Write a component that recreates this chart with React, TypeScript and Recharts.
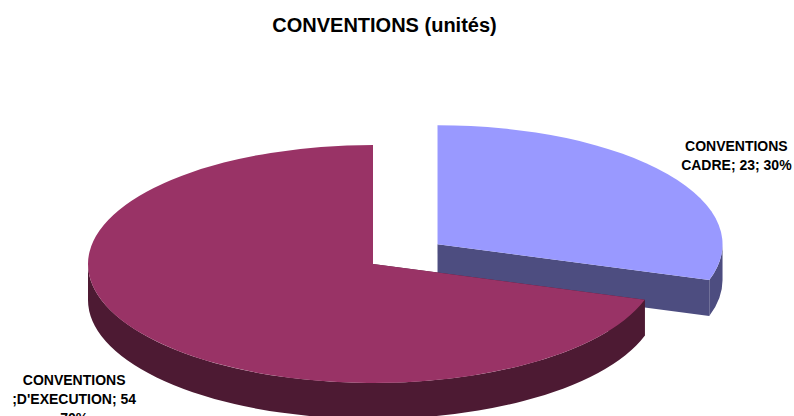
import React from "react";
import { PieChart, Pie } from "recharts";

// ---- data ----
const categories = ["CONVENTIONS CADRE", "CONVENTIONS D'EXECUTION"];
const values = [23, 54];
const labelTemplates = [
  ["CONVENTIONS", "CADRE; {v}; {p}"],
  ["CONVENTIONS", ";D'EXECUTION; {v}", "{p}"],
];
const title = "CONVENTIONS (unités)";

// ---- styles ----
const topColors = ["#9999FF", "#993366"];
const sideColors = ["#4D4D80", "#4D1A33"];
const explode = [80, 0];
const TILT = 119 / 285;
const DEPTH = 36;
const RAD = Math.PI / 180;
const FONT = '"Liberation Sans", Arial, Helvetica, sans-serif';

const data = categories.map((name, i) => ({ name, value: values[i] }));

function renderSlice(props: any) {
  const { cx, cy, outerRadius, startAngle, endAngle, midAngle, index, value, percent } = props;
  const rx = outerRadius;
  const ry = outerRadius * TILT;
  const ex = explode[index] || 0;
  const ox = cx + Math.cos(midAngle * RAD) * ex;
  const oy = cy - Math.sin(midAngle * RAD) * ex * TILT;
  const P = (a: number, z = 0) => [ox + rx * Math.cos(a * RAD), oy - ry * Math.sin(a * RAD) + z];
  const s = Math.max(startAngle, endAngle);
  const e = Math.min(startAngle, endAngle);
  const side = sideColors[index];
  const top = topColors[index];

  // radial walls
  const walls = [s, e].map((a, k) => {
    const p = P(a);
    const pd = P(a, DEPTH);
    const d = `M${ox},${oy} L${p[0]},${p[1]} L${pd[0]},${pd[1]} L${ox},${oy + DEPTH} Z`;
    return <path key={"w" + k} d={d} fill={side} stroke="none" />;
  });

  // outer (front) wall
  const outer: any[] = [];
  for (let k = -2; k <= 1; k++) {
    const lo = -180 + 360 * k;
    const hi = 360 * k;
    const a1 = Math.max(e, lo);
    const a2 = Math.min(s, hi);
    if (a2 > a1) {
      const p1 = P(a1);
      const p2 = P(a2);
      const p2d = P(a2, DEPTH);
      const p1d = P(a1, DEPTH);
      const d = `M${p1[0]},${p1[1]} A${rx},${ry} 0 0 0 ${p2[0]},${p2[1]} L${p2d[0]},${p2d[1]} A${rx},${ry} 0 0 1 ${p1d[0]},${p1d[1]} Z`;
      outer.push(<path key={"o" + k} d={d} fill={side} stroke="none" />);
    }
  }

  // top face
  const ps = P(s);
  const pe = P(e);
  const large = s - e > 180 ? 1 : 0;
  const topD = `M${ox},${oy} L${ps[0]},${ps[1]} A${rx},${ry} 0 ${large} 1 ${pe[0]},${pe[1]} Z`;

  // label
  const c = Math.cos(midAngle * RAD);
  const sn = Math.sin(midAngle * RAD);
  const lx = ox + c * rx * 1.3;
  const ly = oy - sn * ry * 1.26 + (sn < 0 ? DEPTH + 10 : 0);
  const pct = `${Math.round(percent * 100)}%`;
  const lines = labelTemplates[index].map((t) => t.replace("{v}", String(value)).replace("{p}", pct));
  const lh = 19;
  const firstBase = ly - ((lines.length - 1) * lh) / 2 + 5;

  return (
    <g key={"slice" + index}>
      {walls}
      {outer}
      <path d={topD} fill={top} stroke="none" />
      <text
        x={lx}
        y={firstBase}
        textAnchor="middle"
        fontFamily={FONT}
        fontWeight="bold"
        fontSize={14}
        fill="#000000"
      >
        {lines.map((ln, i) => (
          <tspan key={i} x={lx} y={firstBase + i * lh}>
            {ln}
          </tspan>
        ))}
      </text>
    </g>
  );
}

export default function App() {
  return (
    <div
      style={{
        position: "absolute",
        left: 0,
        top: 0,
        width: 794,
        height: 416,
        background: "#ffffff",
        overflow: "hidden",
      }}
    >
      <div
        style={{
          position: "absolute",
          left: 0,
          top: 15,
          width: 769,
          textAlign: "center",
          fontFamily: FONT,
          fontWeight: "bold",
          fontSize: 20,
          lineHeight: "20px",
          color: "#000",
          whiteSpace: "nowrap",
        }}
      >
        {title}
      </div>
      <div style={{ position: "absolute", left: 0, top: 0 }}>
        <PieChart width={794} height={416} margin={{ top: 0, right: 0, bottom: 0, left: 0 }}>
          <Pie
            data={data}
            dataKey="value"
            nameKey="name"
            cx={373}
            cy={264}
            innerRadius={0}
            outerRadius={285}
            startAngle={90}
            endAngle={-270}
            fill="none"
            stroke="none"
            label={renderSlice}
            labelLine={false}
            isAnimationActive={false}
          />
        </PieChart>
      </div>
    </div>
  );
}
